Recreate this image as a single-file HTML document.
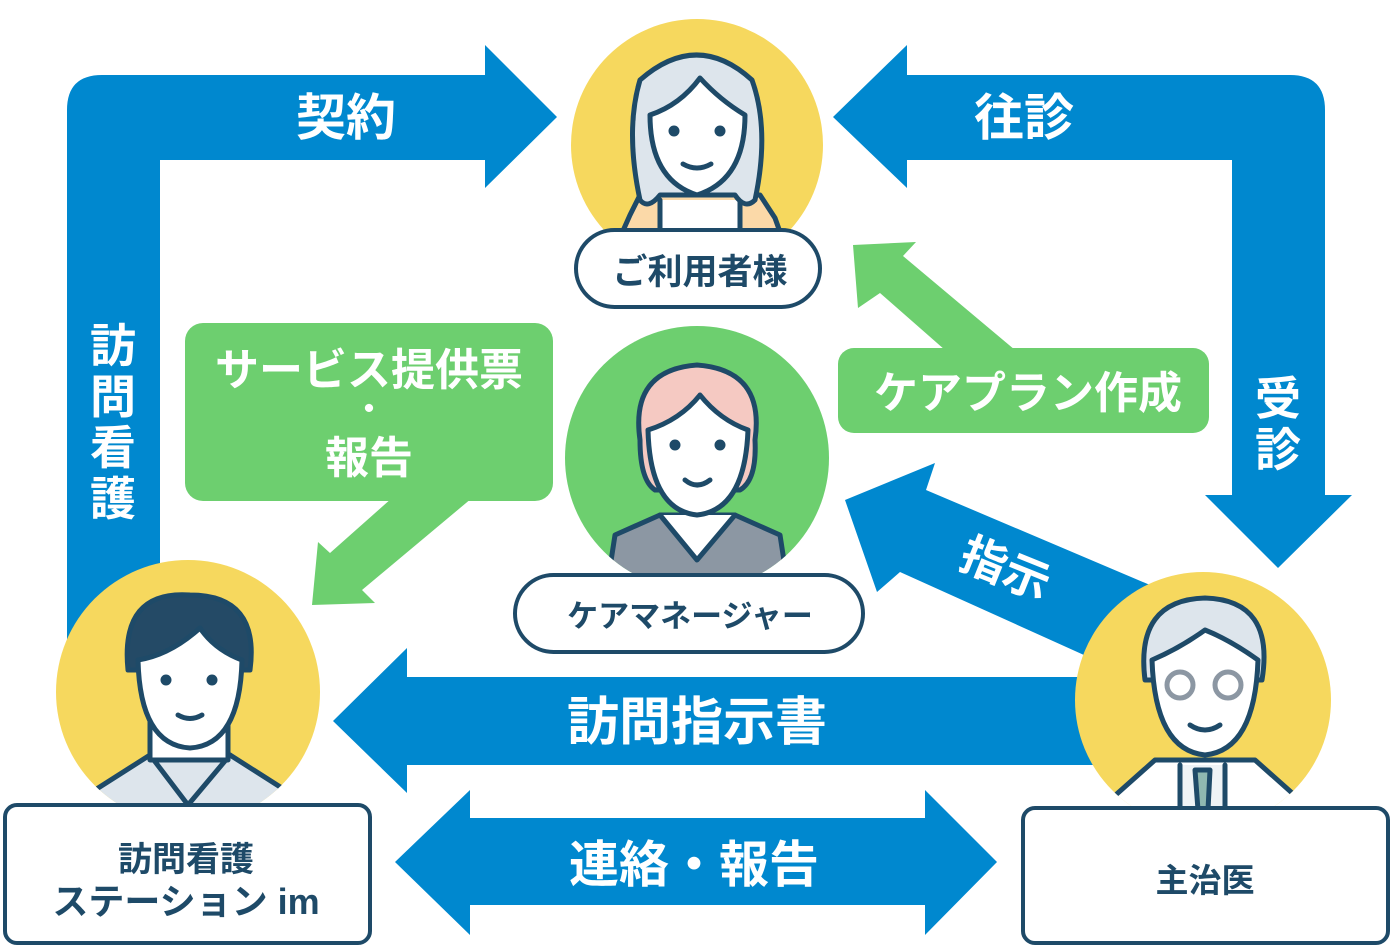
<!DOCTYPE html>
<html><head><meta charset="utf-8"><style>
html,body{margin:0;padding:0;background:#fff;width:1395px;height:951px;overflow:hidden}
svg{display:block}
text{font-family:"Liberation Sans","Noto Sans CJK JP",sans-serif;font-weight:bold}
</style></head><body>
<svg width="1395" height="951" viewBox="0 0 1395 951" xmlns="http://www.w3.org/2000/svg">
<defs>
<clipPath id="cu"><circle cx="697" cy="145" r="126"/></clipPath>
<clipPath id="cm"><circle cx="697" cy="458" r="132"/></clipPath>
<clipPath id="cn"><circle cx="188" cy="692" r="132"/></clipPath>
<clipPath id="cd"><circle cx="1203" cy="700" r="128"/></clipPath>
</defs>
<g fill="#0088cf">
<path d="M67,110 Q67,75 102,75 L485,75 L485,45 L557,117 L485,188 L485,160 L160,160 L160,650 L67,650 Z"/>
<path d="M1290,75 Q1325,75 1325,110 L1325,495 L1352,495 L1278,568 L1205,495 L1232,495 L1232,160 L907,160 L907,188 L833,117 L907,45 L907,75 Z"/>
<path d="M333,721 L407,648 L407,677 L1110,677 L1110,765 L407,765 L407,793 Z"/>
<path d="M395,862 L470,790 L470,818 L925,818 L925,790 L997,862 L925,935 L925,905 L470,905 L470,935 Z"/>
<path d="M845,500 L935,463 L926,490 L1150,585 L1095,660 L900,572 L877,592 Z"/>
</g>
<g fill="#6dcf6f">
<path d="M853,245 L916,242 L903,256 L1015,350 L945,350 L880,293 L858,308 Z"/>
<path d="M312,605 L318,542 L330,553 L392,498 L472,498 L362,590 L375,603 Z"/>
<rect x="838" y="348" width="371" height="85" rx="16"/>
<rect x="185" y="323" width="368" height="178" rx="18"/>
</g>
<circle cx="697" cy="145" r="126" fill="#f6d85e"/>
<circle cx="697" cy="458" r="132" fill="#6dcf6f"/>
<circle cx="188" cy="692" r="132" fill="#f6d85e"/>
<circle cx="1203" cy="700" r="128" fill="#f6d85e"/>
<g stroke="#1e4a68" stroke-width="5" stroke-linecap="round" stroke-linejoin="round">
<g clip-path="url(#cu)">
<path d="M630,215 L640,195 L760,195 L775,218 L790,260 L610,260 Z" fill="#fbd9a8"/>
<path d="M660,200 L660,240 L740,240 L740,200" fill="#fff"/>
<path d="M640,200 Q625,130 640,80 Q697,30 752,80 Q770,130 755,200 Q745,210 735,195 L660,195 Q648,210 640,200 Z" fill="#dde5ec"/>
<path d="M650,115 Q650,180 697,195 Q745,180 745,115 Q720,100 700,78 Q680,105 650,115 Z" fill="#fff"/>
<circle cx="674" cy="131" r="3" fill="#1e4a68"/><circle cx="720" cy="131" r="3" fill="#1e4a68"/>
<path d="M683,164 Q697,172 711,164" fill="none"/>
</g>
<g clip-path="url(#cm)">
<path d="M615,535 L660,515 L735,515 L780,535 L790,600 L605,600 Z" fill="#8c97a3"/>
<path d="M660,515 L697,560 L735,515" fill="#fff"/>
<path d="M640,440 Q630,370 697,365 Q765,370 755,440 Q757,480 740,490 L655,490 Q640,480 640,440 Z" fill="#f5c9c2"/>
<path d="M648,430 Q650,510 697,515 Q745,510 748,430 Q720,420 700,395 Q680,420 648,430 Z" fill="#fff"/>
<circle cx="675" cy="445" r="3" fill="#1e4a68"/><circle cx="720" cy="445" r="3" fill="#1e4a68"/>
<path d="M685,480 Q697,490 710,480" fill="none"/>
</g>
<g clip-path="url(#cn)">
<path d="M95,790 L150,755 L230,755 L285,790 L290,830 L90,830 Z" fill="#dde5ec"/>
<path d="M150,755 L188,805 L230,755" fill="none"/>
<path d="M150,700 L150,760 L228,760 L228,700" fill="#fff"/>
<path d="M128,670 Q120,590 190,595 Q260,595 250,670 Z" fill="#244a66"/>
<path d="M138,660 Q140,745 190,748 Q240,745 242,660 Q215,650 200,628 Q170,655 138,660 Z" fill="#fff"/>
<circle cx="166" cy="680" r="3" fill="#1e4a68"/><circle cx="212" cy="680" r="3" fill="#1e4a68"/>
<path d="M178,715 Q190,722 202,715" fill="none"/>
</g>
<g clip-path="url(#cd)">
<path d="M1110,800 L1155,760 L1255,760 L1300,800 L1305,840 L1105,840 Z" fill="#fff"/>
<path d="M1180,765 L1180,820 L1225,820 L1225,765" fill="#eef3f6"/>
<path d="M1195,770 L1210,770 L1208,810 L1198,810 Z" fill="#8fb8b0"/>
<path d="M1145,680 Q1135,600 1205,598 Q1275,600 1262,680 Z" fill="#dde5ec"/>
<path d="M1152,660 Q1155,750 1205,755 Q1255,750 1258,660 Q1230,640 1205,630 Q1180,648 1152,660 Z" fill="#fff"/>
<circle cx="1180" cy="685" r="13" fill="none" stroke="#8c97a3"/><circle cx="1228" cy="685" r="13" fill="none" stroke="#8c97a3"/>
<path d="M1190,725 Q1205,735 1220,725" fill="none"/>
</g>
</g>
<rect x="576" y="230" width="244" height="77" rx="38.5" fill="#fff" stroke="#1e4a68" stroke-width="4"/>
<rect x="515" y="575" width="348" height="77" rx="38.5" fill="#fff" stroke="#1e4a68" stroke-width="4"/>
<rect x="5" y="805" width="365" height="138" rx="12" fill="#fff" stroke="#1e4a68" stroke-width="4"/>
<rect x="1023" y="808" width="365" height="135" rx="12" fill="#fff" stroke="#1e4a68" stroke-width="4"/>
<g fill="#1e4a68" text-anchor="middle">
<text x="700" y="284" font-size="35">ご利用者様</text>
<text x="690" y="627" font-size="31">ケアマネージャー</text>
<text x="186" y="871" font-size="34">訪問看護</text>
<text x="186" y="914" font-size="36">ステーション im</text>
<text x="1205" y="892" font-size="33">主治医</text>
</g>
<g fill="#fff" text-anchor="middle">
<text x="346" y="135" font-size="50">契約</text>
<text x="1024" y="135" font-size="50">往診</text>
<text x="113" y="362" font-size="46">訪</text>
<text x="113" y="413" font-size="46">問</text>
<text x="113" y="464" font-size="46">看</text>
<text x="113" y="515" font-size="46">護</text>
<text x="1278" y="415" font-size="46">受</text>
<text x="1278" y="466" font-size="46">診</text>
<text x="697" y="740" font-size="52">訪問指示書</text>
<text x="694" y="882" font-size="50">連絡・報告</text>
<text x="1005" y="585" font-size="46" transform="rotate(22 1005 570)">指示</text>
<text x="1028" y="408" font-size="44">ケアプラン作成</text>
<text x="369" y="385" font-size="44">サービス提供票</text>
<text x="369" y="420" font-size="32">・</text>
<text x="369" y="473" font-size="44">報告</text>
</g>
</svg>
</body></html>
